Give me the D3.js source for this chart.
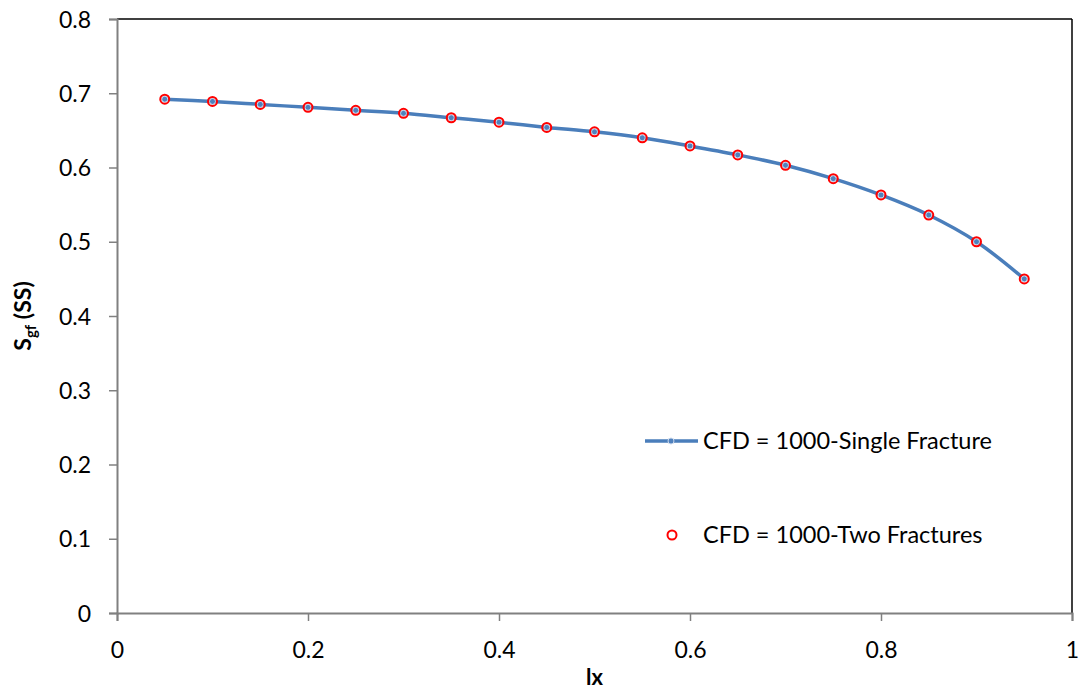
<!DOCTYPE html>
<html>
<head>
<meta charset="utf-8">
<script src="https://cdn.jsdelivr.net/npm/d3@7"></script>
<style>
  body { margin: 0; background: #fff; }
  svg { display: block; font-family: Lato, "Open Sans", sans-serif; }
</style>
</head>
<body>
<svg id="chart" width="1086" height="691"></svg>
<script>
// Dimensionless fracture position and steady-state gas saturation
const lx = [0.05, 0.1, 0.15, 0.2, 0.25, 0.3, 0.35, 0.4, 0.45, 0.5, 0.55, 0.6, 0.65, 0.7, 0.75, 0.8, 0.85, 0.9, 0.95];
const singleFracture = [0.692, 0.689, 0.685, 0.681, 0.677, 0.673, 0.667, 0.661, 0.654, 0.648, 0.640, 0.629, 0.617, 0.603, 0.585, 0.563, 0.536, 0.500, 0.450];
const twoFractures = [0.692, 0.689, 0.685, 0.681, 0.677, 0.673, 0.667, 0.661, 0.654, 0.648, 0.640, 0.629, 0.617, 0.603, 0.585, 0.563, 0.536, 0.500, 0.450];
const xTicks = [0, 0.2, 0.4, 0.6, 0.8, 1];
const yTicks = [0, 0.1, 0.2, 0.3, 0.4, 0.5, 0.6, 0.7, 0.8];
const seriesNames = ["CFD = 1000-Single Fracture", "CFD = 1000-Two Fractures"];

const svg = d3.select("#chart");
const plotL = 117, plotR = 1072, plotT = 19, plotB = 613;

const x = d3.scaleLinear().domain([0, 1]).range([plotL, plotR]);
const y = d3.scaleLinear().domain([0, 0.8]).range([plotB, plotT]);

// Frame: black top/right, grey axes
svg.append("line").attr("x1", plotL).attr("x2", plotR).attr("y1", plotT).attr("y2", plotT)
  .attr("stroke", "#000").attr("stroke-width", 1.5);
svg.append("line").attr("x1", plotR).attr("x2", plotR).attr("y1", plotT).attr("y2", plotB)
  .attr("stroke", "#000").attr("stroke-width", 1.5);

const xAxis = svg.append("g").attr("transform", `translate(0,${plotB})`)
  .call(d3.axisBottom(x).tickValues(xTicks).tickFormat(d3.format("")).tickSizeOuter(0).tickSize(8).tickPadding(21));
const yAxis = svg.append("g").attr("transform", `translate(${plotL},0)`)
  .call(d3.axisLeft(y).tickValues(yTicks).tickFormat(d3.format("")).tickSizeOuter(0).tickSize(8).tickPadding(18));

[xAxis, yAxis].forEach(g => {
  g.select(".domain").attr("stroke", "#808080").attr("stroke-width", 2);
  g.selectAll(".tick line").attr("stroke", "#808080").attr("stroke-width", 1.5);
  g.selectAll("text").attr("font-size", 23).attr("fill", "#000").attr("font-family", "Lato, 'Open Sans', sans-serif");
});
yAxis.selectAll("text").attr("dy", "0.35em");

// Axis titles
svg.append("text").attr("x", (plotL + plotR) / 2).attr("y", 685)
  .attr("text-anchor", "middle").attr("font-size", 22).attr("font-weight", "bold").text("lx");

const yTitle = svg.append("text")
  .attr("transform", `translate(31,${(plotT + plotB) / 2}) rotate(-90)`)
  .attr("text-anchor", "middle").attr("font-size", 23).attr("font-weight", "bold");
yTitle.append("tspan").text("S");
yTitle.append("tspan").attr("font-size", 15).attr("dy", 5).text("gf");
yTitle.append("tspan").attr("dy", -5).text(" (SS)");

// Single fracture: smoothed line with small markers
const line = d3.line().x((d, i) => x(lx[i])).y(d => y(d)).curve(d3.curveCatmullRom.alpha(0.5));
svg.append("path").datum(singleFracture).attr("d", line)
  .attr("fill", "none").attr("stroke", "#4A7EBB").attr("stroke-width", 3.5);
svg.selectAll("circle.single").data(singleFracture).join("circle").attr("class", "single")
  .attr("cx", (d, i) => x(lx[i])).attr("cy", d => y(d)).attr("r", 3)
  .attr("fill", "#4F81BD").attr("stroke", "#C9D7EC").attr("stroke-width", 1);

// Two fractures: open red circles
svg.selectAll("circle.two").data(twoFractures).join("circle").attr("class", "two")
  .attr("cx", (d, i) => x(lx[i])).attr("cy", d => y(d)).attr("r", 4.5)
  .attr("fill", "none").attr("stroke", "#FF0000").attr("stroke-width", 2);

// Legend
const lg = svg.append("g");
lg.append("line").attr("x1", 645).attr("x2", 698).attr("y1", 441).attr("y2", 441)
  .attr("stroke", "#4A7EBB").attr("stroke-width", 3.5);
lg.append("circle").attr("cx", 671).attr("cy", 441).attr("r", 3)
  .attr("fill", "#4F81BD").attr("stroke", "#C9D7EC").attr("stroke-width", 1);
lg.append("text").attr("x", 703).attr("y", 441).attr("dy", "0.35em").attr("font-size", 23.5).text(seriesNames[0]);
lg.append("circle").attr("cx", 672).attr("cy", 535).attr("r", 4.5)
  .attr("fill", "none").attr("stroke", "#FF0000").attr("stroke-width", 2);
lg.append("text").attr("x", 703).attr("y", 535).attr("dy", "0.35em").attr("font-size", 23.5).text(seriesNames[1]);
</script>
</body>
</html>
